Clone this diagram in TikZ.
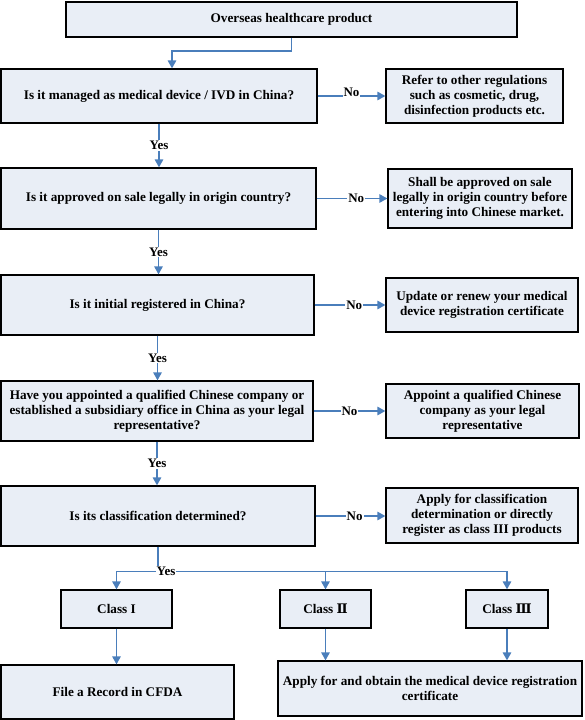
\documentclass[tikz,border=0pt]{standalone}
\usepackage{fontspec}
\setmainfont{Liberation Serif}
\newfontfamily\numfont{DejaVu Serif}
\usetikzlibrary{arrows.meta,calc}
\definecolor{boxfill}{HTML}{E9EEF6}
\definecolor{arrblue}{HTML}{4A7EBB}
\tikzset{
  box/.style={draw=black, line width=1.3pt, fill=boxfill, align=center, inner sep=1pt,
    font=\bfseries\fontsize{13.2}{14.8}\selectfont},
  conn/.style={draw=arrblue, line width=1.5pt},
  arr/.style={conn, -{Triangle[length=8pt,width=8.5pt]}},
  lab/.style={fill=white, inner sep=1pt, font=\bfseries\fontsize{13}{14}\selectfont}
}
\begin{document}
\begin{tikzpicture}[x=1pt,y=-1pt]
\useasboundingbox (0,0) rectangle (584,720);
\node[box, minimum width=451pt, minimum height=35pt] (top) at (291.5,19.5) {Overseas healthcare product};
\node[box, minimum width=316pt, minimum height=54pt] (q1) at (159,96) {Is it managed as medical device / IVD in China?};
\node[box, minimum width=177pt, minimum height=54pt] (r1) at (474.5,96) {Refer to other regulations\\such as cosmetic, drug,\\disinfection products etc.};
\node[box, minimum width=315pt, minimum height=61pt] (q2) at (158.5,198.5) {Is it approved on sale legally in origin country?};
\node[box, minimum width=184pt, minimum height=59pt] (r2) at (480,198.5) {Shall be approved on sale\\legally in origin country before\\entering into Chinese market.};
\node[box, minimum width=313pt, minimum height=60pt] (q3) at (157.5,305) {Is it initial registered in China?};
\node[box, minimum width=192pt, minimum height=54pt] (r3) at (482,305) {Update or renew your medical\\device registration certificate};
\node[box, minimum width=312pt, minimum height=60pt] (q4) at (157,411) {Have you appointed a qualified Chinese company or\\established a subsidiary office in China as your legal\\representative?};
\node[box, minimum width=193pt, minimum height=54pt] (r4) at (482.5,411) {Appoint a qualified Chinese\\company as your legal\\representative};
\node[box, minimum width=314pt, minimum height=60pt] (q5) at (158,516) {Is its classification determined?};
\node[box, minimum width=192pt, minimum height=55pt] (r5) at (482,515.5) {Apply for classification\\determination or directly\\register as class III products};
\node[box, minimum width=111pt, minimum height=38pt] (c1) at (116.5,609) {Class I};
\node[box, minimum width=91pt, minimum height=38pt] (c2) at (325.5,609) {Class {\numfont\bfseries Ⅱ}};
\node[box, minimum width=82pt, minimum height=38pt] (c3) at (507,609) {Class {\numfont\bfseries Ⅲ}};
\node[box, minimum width=233pt, minimum height=54pt] (f) at (117.5,692) {File a Record in CFDA};
\node[box, minimum width=304pt, minimum height=55pt] (ap) at (430,688.5) {Apply for and obtain the medical device registration\\certificate};
% top to q1
\draw[arr] (top.south) -- (top.south |- 0,51) -| ([xshift=13pt]q1.north);
% yes arrows
\draw[arr] (q1.south) -- node[lab]{Yes} (q1.south |- q2.north);
\draw[arr] (q2.south) -- node[lab]{Yes} (q2.south |- q3.north);
\draw[arr] (q3.south) -- node[lab]{Yes} (q3.south |- q4.north);
\draw[arr] (q4.south) -- node[lab]{Yes} (q4.south |- q5.north);
% no arrows
\draw[arr] (q1.east) -- node[lab, pos=0.5, yshift=4pt]{No} (q1.east -| r1.west);
\draw[arr] (q2.east) -- node[lab, pos=0.56]{No} (q2.east -| r2.west);
\draw[arr] (q3.east) -- node[lab, pos=0.56]{No} (q3.east -| r3.west);
\draw[arr] (q4.east) -- node[lab, pos=0.5]{No} (q4.east -| r4.west);
\draw[arr] (q5.east) -- node[lab, pos=0.56]{No} (q5.east -| r5.west);
% yes branch
\coordinate (j) at ($(q5.south)+(0,25)$);
\draw[conn] (q5.south) -- (j);
\draw[arr] (j) -| (c1.north);
\draw[arr] (j) -| (c2.north);
\draw[arr] (j) -| (c3.north);
\node[lab] (yb) at ($(j)+(8,0)$) {Yes};
% classes down
\draw[arr] (c1.south) -- (c1.south |- f.north);
\draw[arr] (c2.south) -- (c2.south |- ap.north);
\draw[arr] (c3.south) -- (c3.south |- ap.north);
\end{tikzpicture}
\end{document}
